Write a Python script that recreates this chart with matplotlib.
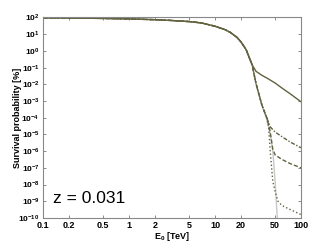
import numpy as np
import matplotlib
matplotlib.use("Agg")
import matplotlib.pyplot as plt

plt.rcParams["font.family"] = ["Liberation Sans", "DejaVu Sans"]
plt.rcParams["mathtext.fontset"] = "custom"
plt.rcParams["mathtext.rm"] = "Liberation Sans:bold"
plt.rcParams["mathtext.bf"] = "Liberation Sans:bold"
plt.rcParams["mathtext.default"] = "bf"

# shared part of all curves (E in TeV, survival in %)
e_common = [0.1, 0.2, 0.5, 1, 2, 3, 5, 7, 10, 13, 15, 18, 20, 23, 25, 27]
p_common = [95, 93, 88, 82, 74, 67, 57, 47, 30, 19, 13, 6.5, 3.5, 1.2, 0.4, 0.15]

# tails after the split
e_solid = [30, 35, 40, 50, 60, 75, 100]
p_solid = [0.06, 0.035, 0.024, 0.012, 0.006, 0.0027, 0.0009]

e_dashdot = [30, 35, 40, 44, 50, 60, 75, 100]
p_dashdot = [1.1e-2, 6e-4, 1e-4, 2.8e-5, 1.4e-5, 7.4e-6, 3.5e-6, 1.6e-6]

e_dashed = [30, 35, 40, 43, 45, 47, 50, 60, 75, 100]
p_dashed = [1.1e-2, 6e-4, 1e-4, 2.5e-5, 6e-6, 1.3e-6, 6e-7, 3.2e-7, 1.8e-7, 1e-7]

e_dotted = [30, 35, 40, 42, 44, 47, 50, 54, 60, 75, 100]
p_dotted = [1.1e-2, 6e-4, 1e-4, 3e-5, 8e-7, 1.6e-8, 4e-9, 1e-9, 5.6e-10, 3.2e-10, 1.6e-10]

e_gray = [30, 35, 40, 44, 47, 50, 53, 56]
p_gray = [1.1e-2, 6e-4, 8e-5, 1e-5, 1e-6, 1.6e-8, 1e-10, 1e-12]

xticks = [0.1, 0.2, 0.5, 1, 2, 5, 10, 20, 50, 100]
xticklabels = ["0.1", "0.2", "0.5", "1", "2", "5", "10", "20", "50", "100"]
yexps = list(range(-10, 3))

line_col = "#62623f"

fig = plt.figure(figsize=(3.32, 2.46), dpi=100)
ax = fig.add_axes([0.1295, 0.1138, 0.7771, 0.8151])

ax.plot(e_common + e_gray, p_common + p_gray, color="#c8c8c8", lw=1.0)
ax.plot(e_common + e_dotted, p_common + p_dotted, color=line_col, lw=1.0, ls=":")
ax.plot(e_common + e_dashed, p_common + p_dashed, color=line_col, lw=1.0, ls=(0, (3, 1.5)))
ax.plot(e_common + e_dashdot, p_common + p_dashdot, color=line_col, lw=1.0, ls=(0, (3, 1.2, 1, 1.2)))
ax.plot(e_common + e_solid, p_common + p_solid, color=line_col, lw=1.0)

ax.set_xscale("log")
ax.set_yscale("log")
ax.set_xlim(0.1, 100)
ax.set_ylim(1e-10, 1e2)

ax.set_xticks(xticks)
ax.set_xticklabels(xticklabels, fontsize=6.5, fontweight="bold")
ax.set_yticks([10.0 ** k for k in yexps])
ax.set_yticklabels([r"$10^{%d}$" % k for k in yexps], fontsize=6)
ax.minorticks_off()
ax.tick_params(direction="in", length=2.5, width=0.6, top=True, right=True,
               color="#777777", pad=2.5)

for s in ax.spines.values():
    s.set_color("#888888")
    s.set_linewidth(0.8)

ax.set_xlabel(r"E$_0$ [TeV]", fontsize=6.5, fontweight="bold", labelpad=0)
ax.set_ylabel("Survival probability [%]", fontsize=6.5, fontweight="bold")
ax.yaxis.set_label_coords(-0.08, 0.5)

ax.text(0.04, 0.06, "z = 0.031", transform=ax.transAxes, fontsize=12.5,
        ha="left", va="bottom")

fig.savefig("out.png", dpi=100)
